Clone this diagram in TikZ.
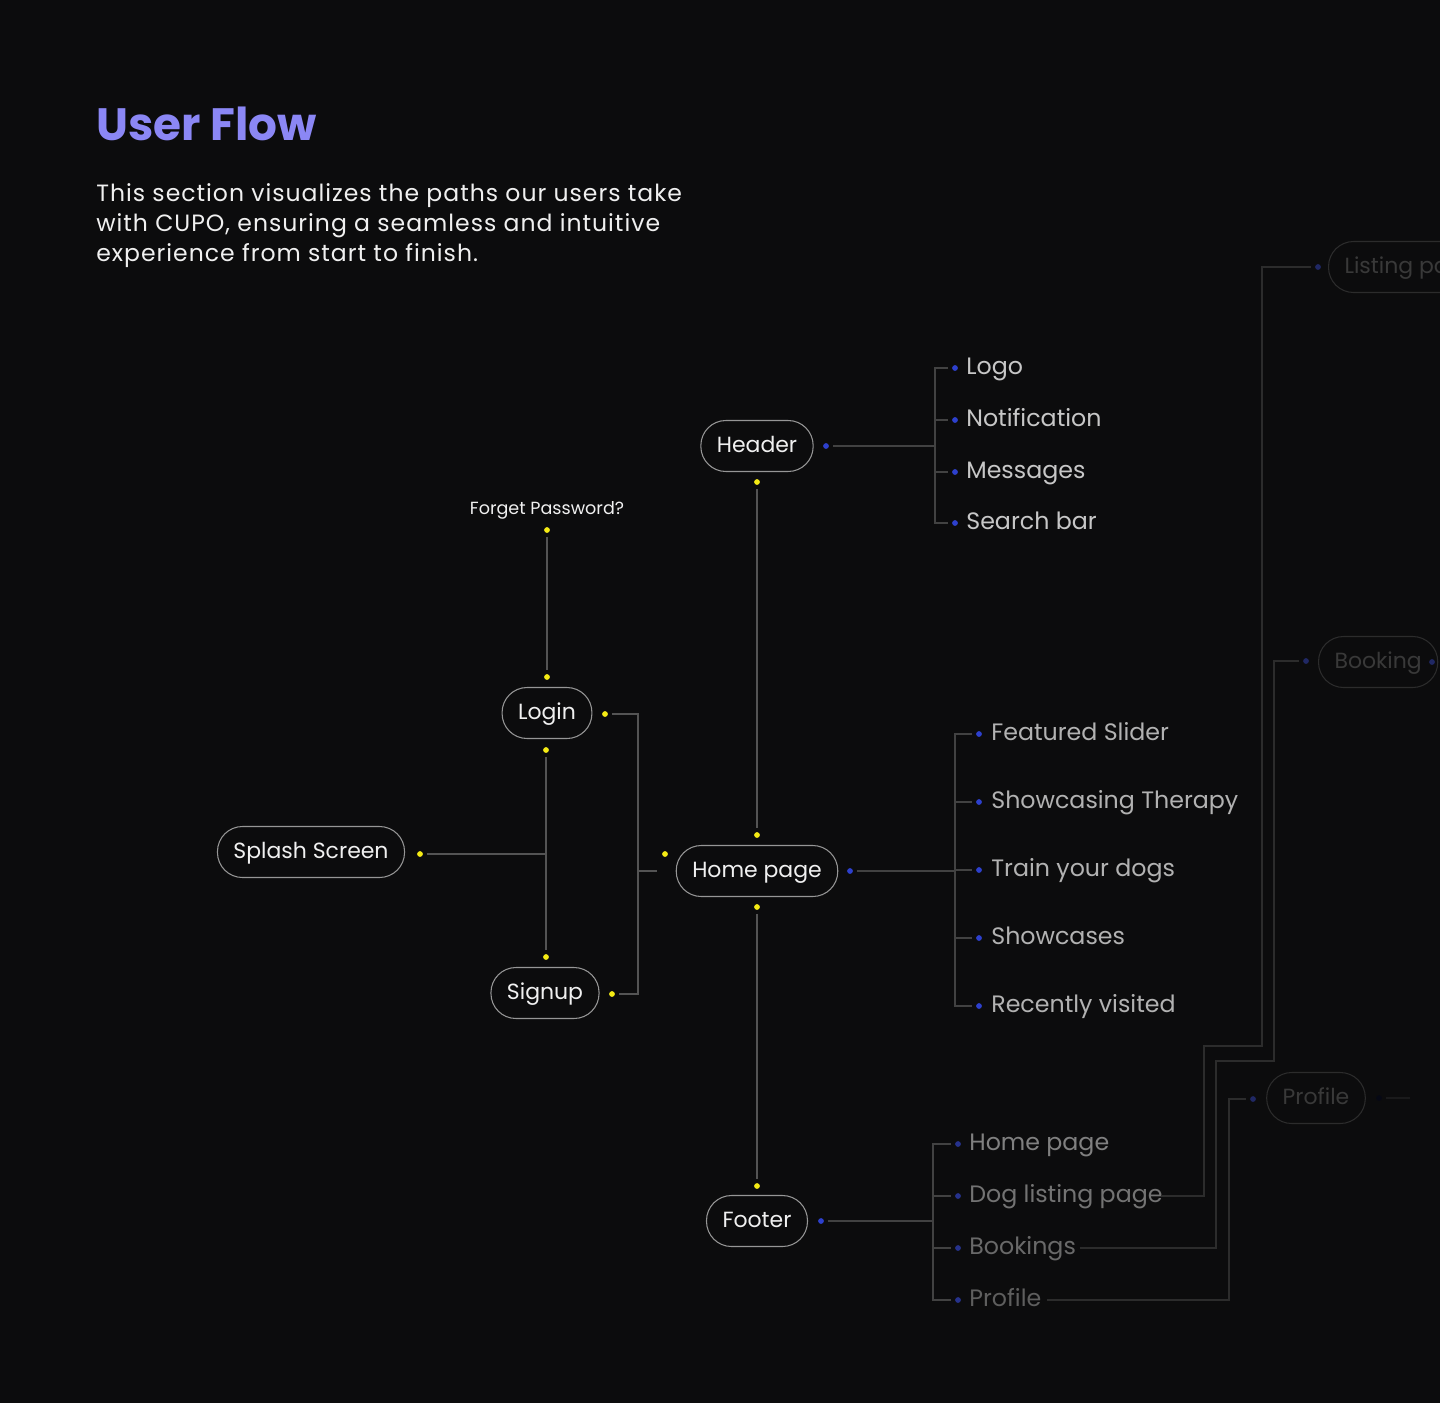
\documentclass[tikz,border=0pt]{standalone}
\usepackage{fontspec}
\setmainfont{Poppins}
\usetikzlibrary{positioning}

\definecolor{bgdark}{RGB}{12,12,13}
\definecolor{titleblue}{RGB}{139,135,245}
\definecolor{pillline}{RGB}{150,150,150}
\definecolor{linkgray}{RGB}{84,84,84}
\definecolor{branchgray}{RGB}{66,66,66}
\definecolor{fadegray}{RGB}{44,44,44}
\definecolor{dotyellow}{RGB}{245,235,20}
\definecolor{dotblue}{RGB}{45,64,205}
\definecolor{dotdim}{RGB}{38,50,140}
\definecolor{dotfaint}{RGB}{32,40,100}

\begin{document}
\begin{tikzpicture}[
    x=0.02cm, y=-0.02cm,
    pill/.style={rectangle, draw=pillline, line width=0.6pt, rounded corners=0.5cm,
                 minimum height=1.02cm, inner xsep=0.32cm, text=white!94!black,
                 text height=0.7em, text depth=0pt, font=\fontsize{12.5}{15}\selectfont},
    ghost/.style={pill, draw=fadegray, text=black!68!white!70!black},
    bead/.style={circle, fill=#1, inner sep=0pt, minimum size=0.115cm, outer sep=0.08cm},
    item/.style={anchor=west, inner sep=0pt, text height=0.7em, text depth=0pt,
                 text=#1, font=\fontsize{13.5}{16}\selectfont},
    link/.style={draw=linkgray, line width=0.7pt},
    branch/.style={draw=branchgray, line width=0.7pt},
    fade/.style={draw=fadegray, line width=0.7pt},
]
\fill[bgdark] (0,0) rectangle (1440,1403);
\clip (0,0) rectangle (1440,1403);
% faint rings behind the flow
\draw[white, opacity=0.005, line width=2.2cm] (395,890) circle (400);
\draw[white, opacity=0.004, line width=1.2cm] (395,890) circle (250);

% heading
\node[anchor=base west, inner sep=0pt, text=titleblue,
      font=\fontsize{25.8}{30}\selectfont\bfseries] (title) at (96,140) {User Flow};
\node[anchor=north west, inner sep=0pt, align=left, text=white!94!black,
      font=\fontsize{13.4}{17}\selectfont\addfontfeatures{LetterSpace=4.2}] (intro) at (96,183)
      {This section visualizes the paths our users take\\
       with CUPO, ensuring a seamless and intuitive\\
       experience from start to finish.};

% main pages
\node[pill] (home) at (757,871) {Home page};
\node[pill] (header) at (757,446) {Header};
\node[pill] (footer) at (757,1221) {Footer};
\node[pill] (login) at (547,713) {Login};
\node[pill] (signup) at (545,993) {Signup};
\node[pill] (splash) at (311,852) {Splash Screen};
\node[anchor=base, inner sep=0pt, text=white!94!black,
      font=\fontsize{10}{12}\selectfont] (forget) at (547,514) {Forget Password?};

% yellow dots
\node[bead=dotyellow] (forget-b) at (547,530) {};
\node[bead=dotyellow] (login-t) at (547,677) {};
\node[bead=dotyellow] (login-r) at (605,714) {};
\node[bead=dotyellow] (login-b) at (546,750) {};
\node[bead=dotyellow] (signup-t) at (546,957) {};
\node[bead=dotyellow] (signup-r) at (612,994) {};
\node[bead=dotyellow] (splash-r) at (420,854) {};
\node[bead=dotyellow] (home-l) at (665,854) {};
\node[bead=dotyellow] (header-b) at (757,482) {};
\node[bead=dotyellow] (home-t) at (757,835) {};
\node[bead=dotyellow] (home-b) at (757,907) {};
\node[bead=dotyellow] (footer-t) at (757,1186) {};

% blue dots
\node[bead=dotblue] (header-r) at (826,446) {};
\node[bead=dotblue] (home-r) at (850,871) {};
\node[bead=dotblue] (footer-r) at (821,1221) {};

\coordinate (auth-bus) at (638,871);
\coordinate (auth-end) at (657,871);
\coordinate (hbus) at (935,446);
\coordinate (mbus) at (955,871);
\coordinate (fbus) at (933,1221);

\draw[link] (forget-b) -- (login-t);
\draw[link] (login-b) -- (signup-t);
\draw[link] (splash-r) -- (splash-r -| login-b);
\draw[link] (login-r) -| (auth-bus) |- (signup-r);
\draw[link] (auth-bus) -- (auth-end);
\draw[link] (header-b) -- (home-t);
\draw[link] (home-b) -- (footer-t);
\draw[branch] (header-r) -- (hbus);
\draw[branch] (home-r) -- (mbus);
\draw[branch] (footer-r) -- (fbus);

% header parts
\foreach \name/\y/\txt in {logo/368/Logo, notif/420/Notification,
                           msgs/472/Messages, search/523/Search bar} {
  \node[bead=dotblue] (\name-d) at (955,\y) {};
  \node[item=white!78!black] (\name) at (966,\y) {\txt};
  \draw[branch] (hbus) |- (\name-d);
}

% home page parts
\foreach \name/\y/\txt in {slider/734/Featured Slider, therapy/802/Showcasing Therapy,
                           train/870/Train your dogs, shows/938/Showcases,
                           recent/1006/Recently visited} {
  \node[bead=dotblue] (\name-d) at (979,\y) {};
  \node[item=white!70!black] (\name) at (991,\y) {\txt};
  \draw[branch] (mbus) |- (\name-d);
}

% footer parts
\node[bead=dotdim] (fhome-d) at (958,1144) {};
\node[item=white!50!black] (fhome) at (969,1144) {Home page};
\node[bead=dotdim] (fdog-d) at (958,1196) {};
\node[item=white!45!black] (fdog) at (969,1196) {Dog listing page};
\node[bead=dotdim] (fbook-d) at (958,1248) {};
\node[item=white!41!black] (fbook) at (969,1248) {Bookings};
\node[bead=dotdim] (fprof-d) at (958,1300) {};
\node[item=white!37!black] (fprof) at (969,1300) {Profile};
\foreach \name in {fhome, fdog, fbook, fprof}
  \draw[branch] (fbus) |- (\name-d);

% next pages
\node[ghost, anchor=west] (listing) at (1328,267) {Listing page};
\node[ghost, anchor=west] (booking) at (1318,662) {Booking};
\node[ghost] (profile) at (1316,1098) {Profile};
\node[bead=dotfaint] (listing-l) at (1318,267) {};
\node[bead=dotfaint] (booking-l) at (1306,661) {};
\node[bead=dotfaint] (booking-r) at (1432,662) {};
\node[bead=dotfaint] (profile-l) at (1253,1099) {};
\node[bead=black!80!dotfaint] (profile-r) at (1379,1098) {};
\coordinate (profile-out) at (1410,1098);

\draw[fade] (fdog) ++(95,0) -| (1204,1046) -| (1262,267) -- (listing-l);
\draw[fade] (fbook) ++(57,0) -| (1216,1061) -| (1274,661) -- (booking-l);
\draw[fade] (fprof) ++(42,0) -| (1229,1099) -- (profile-l);
\draw[draw=fadegray!45!bgdark, line width=0.7pt] (profile-r) -- (profile-out);
\end{tikzpicture}
\end{document}
